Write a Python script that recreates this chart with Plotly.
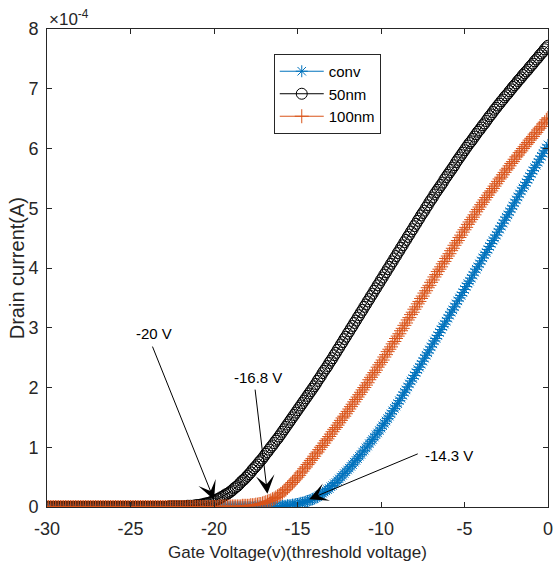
import numpy as np
import plotly.graph_objects as go

# Gate-voltage sweep (V), 0.1 V steps from -30 V to 0 V
gate_voltage = np.round(np.linspace(-30, 0, 301), 1)

# Drain current in units of 1e-4 A.
# Each row holds the ten samples V.0 ... V+0.9 starting at the volt in the comment.
id_conv = [
    0.00, 0.00, 0.00, 0.00, 0.00, 0.00, 0.00, 0.00, 0.00, 0.00,   # -30
    0.00, 0.00, 0.00, 0.00, 0.00, 0.00, 0.00, 0.00, 0.00, 0.00,   # -29
    0.00, 0.00, 0.00, 0.00, 0.00, 0.00, 0.00, 0.00, 0.00, 0.00,   # -28
    0.00, 0.00, 0.00, 0.00, 0.00, 0.00, 0.00, 0.00, 0.00, 0.00,   # -27
    0.00, 0.00, 0.00, 0.00, 0.00, 0.00, 0.00, 0.00, 0.00, 0.00,   # -26
    0.00, 0.00, 0.00, 0.00, 0.00, 0.00, 0.00, 0.00, 0.00, 0.00,   # -25
    0.00, 0.00, 0.00, 0.00, 0.00, 0.00, 0.00, 0.00, 0.00, 0.00,   # -24
    0.00, 0.00, 0.00, 0.00, 0.00, 0.00, 0.00, 0.00, 0.00, 0.00,   # -23
    0.00, 0.00, 0.00, 0.00, 0.00, 0.00, 0.00, 0.00, 0.00, 0.00,   # -22
    0.00, 0.00, 0.00, 0.00, 0.00, 0.00, 0.00, 0.00, 0.00, 0.00,   # -21
    0.00, 0.00, 0.00, 0.00, 0.00, 0.00, 0.00, 0.00, 0.00, 0.00,   # -20
    0.00, 0.00, 0.00, 0.00, 0.00, 0.00, 0.00, 0.00, 0.00, 0.00,   # -19
    0.00, 0.00, 0.00, 0.00, 0.00, 0.01, 0.01, 0.01, 0.01, 0.01,   # -18
    0.01, 0.01, 0.01, 0.01, 0.01, 0.01, 0.01, 0.01, 0.01, 0.01,   # -17
    0.02, 0.02, 0.02, 0.02, 0.03, 0.03, 0.03, 0.04, 0.04, 0.05,   # -16
    0.05, 0.06, 0.07, 0.07, 0.08, 0.09, 0.10, 0.11, 0.12, 0.13,   # -15
    0.14, 0.16, 0.17, 0.19, 0.21, 0.23, 0.25, 0.27, 0.29, 0.31,   # -14
    0.34, 0.36, 0.39, 0.41, 0.44, 0.47, 0.50, 0.53, 0.56, 0.59,   # -13
    0.62, 0.65, 0.68, 0.71, 0.75, 0.78, 0.81, 0.85, 0.88, 0.92,   # -12
    0.95, 0.99, 1.02, 1.06, 1.10, 1.13, 1.17, 1.21, 1.24, 1.28,   # -11
    1.32, 1.36, 1.40, 1.44, 1.48, 1.52, 1.56, 1.61, 1.65, 1.69,   # -10
    1.73, 1.78, 1.82, 1.87, 1.92, 1.96, 2.01, 2.06, 2.11, 2.15,   # -9
    2.20, 2.25, 2.30, 2.34, 2.39, 2.44, 2.49, 2.54, 2.58, 2.63,   # -8
    2.68, 2.73, 2.78, 2.82, 2.87, 2.92, 2.97, 3.02, 3.06, 3.11,   # -7
    3.16, 3.21, 3.26, 3.30, 3.35, 3.40, 3.45, 3.50, 3.54, 3.59,   # -6
    3.64, 3.69, 3.74, 3.78, 3.83, 3.88, 3.93, 3.98, 4.02, 4.07,   # -5
    4.12, 4.17, 4.22, 4.26, 4.31, 4.36, 4.41, 4.46, 4.50, 4.55,   # -4
    4.60, 4.65, 4.70, 4.75, 4.80, 4.85, 4.89, 4.94, 4.99, 5.04,   # -3
    5.09, 5.14, 5.19, 5.24, 5.29, 5.34, 5.38, 5.43, 5.48, 5.53,   # -2
    5.58, 5.63, 5.68, 5.72, 5.77, 5.82, 5.87, 5.92, 5.96, 6.01,   # -1
    6.06,                                                         # 0
]

id_50nm = [
    0.00, 0.00, 0.00, 0.00, 0.00, 0.00, 0.00, 0.00, 0.00, 0.00,   # -30
    0.00, 0.00, 0.00, 0.00, 0.00, 0.00, 0.00, 0.00, 0.00, 0.00,   # -29
    0.00, 0.00, 0.00, 0.00, 0.00, 0.00, 0.00, 0.00, 0.00, 0.00,   # -28
    0.00, 0.00, 0.00, 0.00, 0.00, 0.00, 0.00, 0.00, 0.00, 0.00,   # -27
    0.00, 0.00, 0.00, 0.00, 0.00, 0.00, 0.00, 0.00, 0.00, 0.00,   # -26
    0.00, 0.00, 0.00, 0.00, 0.00, 0.00, 0.00, 0.00, 0.00, 0.00,   # -25
    0.00, 0.00, 0.00, 0.00, 0.00, 0.00, 0.00, 0.00, 0.00, 0.00,   # -24
    0.00, 0.00, 0.00, 0.01, 0.01, 0.01, 0.01, 0.01, 0.01, 0.01,   # -23
    0.01, 0.01, 0.01, 0.01, 0.02, 0.02, 0.02, 0.02, 0.02, 0.03,   # -22
    0.03, 0.03, 0.04, 0.04, 0.05, 0.06, 0.06, 0.07, 0.08, 0.09,   # -21
    0.10, 0.11, 0.13, 0.14, 0.16, 0.17, 0.19, 0.21, 0.22, 0.24,   # -20
    0.26, 0.28, 0.31, 0.33, 0.35, 0.38, 0.41, 0.44, 0.46, 0.49,   # -19
    0.52, 0.55, 0.58, 0.62, 0.65, 0.68, 0.71, 0.75, 0.78, 0.81,   # -18
    0.85, 0.89, 0.92, 0.96, 1.00, 1.03, 1.07, 1.11, 1.14, 1.18,   # -17
    1.22, 1.26, 1.30, 1.34, 1.38, 1.42, 1.46, 1.50, 1.54, 1.58,   # -16
    1.62, 1.66, 1.70, 1.74, 1.78, 1.82, 1.86, 1.90, 1.94, 1.98,   # -15
    2.02, 2.06, 2.11, 2.15, 2.19, 2.24, 2.28, 2.32, 2.36, 2.41,   # -14
    2.45, 2.49, 2.54, 2.58, 2.63, 2.67, 2.72, 2.76, 2.81, 2.85,   # -13
    2.90, 2.94, 2.99, 3.03, 3.08, 3.12, 3.17, 3.21, 3.26, 3.30,   # -12
    3.35, 3.39, 3.44, 3.48, 3.53, 3.57, 3.62, 3.66, 3.71, 3.75,   # -11
    3.80, 3.84, 3.89, 3.93, 3.98, 4.02, 4.07, 4.11, 4.16, 4.20,   # -10
    4.25, 4.29, 4.34, 4.38, 4.43, 4.47, 4.52, 4.56, 4.61, 4.65,   # -9
    4.70, 4.74, 4.79, 4.83, 4.88, 4.92, 4.96, 5.01, 5.05, 5.10,   # -8
    5.14, 5.18, 5.23, 5.27, 5.31, 5.35, 5.39, 5.43, 5.48, 5.52,   # -7
    5.56, 5.60, 5.64, 5.68, 5.72, 5.77, 5.81, 5.85, 5.89, 5.93,   # -6
    5.97, 6.01, 6.05, 6.09, 6.12, 6.16, 6.20, 6.24, 6.28, 6.31,   # -5
    6.35, 6.39, 6.42, 6.46, 6.50, 6.54, 6.57, 6.61, 6.65, 6.68,   # -4
    6.72, 6.75, 6.79, 6.82, 6.86, 6.89, 6.92, 6.96, 6.99, 7.03,   # -3
    7.06, 7.09, 7.13, 7.16, 7.19, 7.23, 7.26, 7.29, 7.32, 7.36,   # -2
    7.39, 7.42, 7.46, 7.49, 7.52, 7.56, 7.59, 7.62, 7.66, 7.69,   # -1
    7.72,                                                         # 0
]

id_100nm = [
    0.00, 0.00, 0.00, 0.00, 0.00, 0.00, 0.00, 0.00, 0.00, 0.00,   # -30
    0.00, 0.00, 0.00, 0.00, 0.00, 0.00, 0.00, 0.00, 0.00, 0.00,   # -29
    0.00, 0.00, 0.00, 0.00, 0.00, 0.00, 0.00, 0.00, 0.00, 0.00,   # -28
    0.00, 0.00, 0.00, 0.00, 0.00, 0.00, 0.00, 0.00, 0.00, 0.00,   # -27
    0.00, 0.00, 0.00, 0.00, 0.00, 0.00, 0.00, 0.00, 0.00, 0.00,   # -26
    0.00, 0.00, 0.00, 0.00, 0.00, 0.00, 0.00, 0.00, 0.00, 0.00,   # -25
    0.00, 0.00, 0.00, 0.00, 0.00, 0.00, 0.00, 0.00, 0.00, 0.00,   # -24
    0.00, 0.00, 0.00, 0.00, 0.00, 0.00, 0.00, 0.00, 0.00, 0.00,   # -23
    0.00, 0.00, 0.00, 0.00, 0.00, 0.00, 0.00, 0.00, 0.00, 0.00,   # -22
    0.00, 0.00, 0.00, 0.00, 0.00, 0.00, 0.00, 0.00, 0.00, 0.00,   # -21
    0.00, 0.00, 0.00, 0.01, 0.01, 0.01, 0.01, 0.01, 0.01, 0.01,   # -20
    0.01, 0.01, 0.01, 0.01, 0.01, 0.01, 0.01, 0.02, 0.02, 0.02,   # -19
    0.02, 0.02, 0.03, 0.03, 0.03, 0.04, 0.04, 0.05, 0.05, 0.06,   # -18
    0.07, 0.08, 0.09, 0.10, 0.11, 0.13, 0.14, 0.16, 0.18, 0.20,   # -17
    0.22, 0.24, 0.27, 0.29, 0.32, 0.35, 0.38, 0.41, 0.44, 0.47,   # -16
    0.50, 0.53, 0.57, 0.60, 0.64, 0.67, 0.71, 0.74, 0.78, 0.81,   # -15
    0.85, 0.89, 0.92, 0.96, 1.00, 1.03, 1.07, 1.11, 1.14, 1.18,   # -14
    1.22, 1.26, 1.30, 1.33, 1.37, 1.41, 1.45, 1.49, 1.52, 1.56,   # -13
    1.60, 1.64, 1.68, 1.72, 1.76, 1.80, 1.84, 1.88, 1.92, 1.96,   # -12
    2.00, 2.04, 2.08, 2.13, 2.17, 2.21, 2.25, 2.29, 2.34, 2.38,   # -11
    2.42, 2.46, 2.51, 2.55, 2.60, 2.64, 2.68, 2.73, 2.77, 2.82,   # -10
    2.86, 2.90, 2.95, 2.99, 3.04, 3.08, 3.13, 3.17, 3.22, 3.26,   # -9
    3.31, 3.35, 3.40, 3.44, 3.49, 3.53, 3.58, 3.62, 3.67, 3.71,   # -8
    3.76, 3.80, 3.85, 3.89, 3.94, 3.98, 4.02, 4.07, 4.11, 4.16,   # -7
    4.20, 4.24, 4.29, 4.33, 4.38, 4.42, 4.46, 4.51, 4.55, 4.60,   # -6
    4.64, 4.68, 4.73, 4.77, 4.81, 4.85, 4.89, 4.94, 4.98, 5.02,   # -5
    5.06, 5.10, 5.14, 5.18, 5.22, 5.26, 5.29, 5.33, 5.37, 5.41,   # -4
    5.45, 5.49, 5.52, 5.56, 5.60, 5.64, 5.67, 5.71, 5.75, 5.78,   # -3
    5.82, 5.86, 5.89, 5.93, 5.96, 6.00, 6.03, 6.07, 6.10, 6.14,   # -2
    6.17, 6.20, 6.24, 6.27, 6.31, 6.34, 6.37, 6.41, 6.44, 6.48,   # -1
    6.51,                                                         # 0
]

series_names = ["conv", "50nm", "100nm"]

# Threshold voltages called out on the plot (V)
threshold_labels = ["-20 V", "-16.8 V", "-14.3 V"]
threshold_voltages = [-20.0, -16.8, -14.3]

x_ticks = [-30, -25, -20, -15, -10, -5, 0]
y_ticks = [0, 1, 2, 3, 4, 5, 6, 7, 8]

FONT = "Liberation Sans, Arial, sans-serif"
AXIS_COLOR = "#262626"

styles = {
    "conv": dict(color="#0072BD", symbol="asterisk-open", size=10),
    "50nm": dict(color="#000000", symbol="circle-open", size=11),
    "100nm": dict(color="#D95319", symbol="cross-thin-open", size=10),
}

fig = go.Figure()
for name, values in zip(series_names, [id_conv, id_50nm, id_100nm]):
    st = styles[name]
    fig.add_trace(go.Scatter(
        x=gate_voltage, y=values, name=name, mode="lines+markers",
        line=dict(color=st["color"], width=1),
        marker=dict(symbol=st["symbol"], size=st["size"], color=st["color"],
                    line=dict(color=st["color"], width=1)),
    ))

# Label anchors, arrow tails (data coordinates) and arrow-tip heights
label_pos = [(-23.6, 2.91), (-17.37, 2.16), (-5.95, 0.87)]
tail_pos = [(-23.72, 2.71), (-17.55, 1.99), (-7.71, 0.90)]
tip_height = [0.12, 0.22, 0.13]

annotations = []
for lab, vt, (lx, ly), (tx, ty), th in zip(threshold_labels, threshold_voltages,
                                          label_pos, tail_pos, tip_height):
    annotations.append(dict(
        x=vt, y=th, ax=tx, ay=ty, xref="x", yref="y", axref="x", ayref="y",
        text="", showarrow=True, arrowhead=3, arrowsize=3.1, arrowwidth=1,
        arrowcolor="#000000", standoff=0,
    ))
    annotations.append(dict(
        x=lx, y=ly, xref="x", yref="y", text=lab, showarrow=False,
        font=dict(family=FONT, size=15, color="#000000"),
        xanchor="center", yanchor="middle",
    ))

annotations += [
    dict(x=0, y=1, xref="paper", yref="paper", xanchor="left", yanchor="bottom",
         text="×10<sup>-4</sup>", showarrow=False, yshift=-2,
         font=dict(family=FONT, size=17, color=AXIS_COLOR)),
    dict(x=-0.0593, y=0.5, xref="paper", yref="paper", textangle=-90,
         text="Drain current(A)", showarrow=False, xanchor="center", yanchor="middle",
         font=dict(family=FONT, size=20, color=AXIS_COLOR)),
    dict(x=0.5, y=-0.0962, xref="paper", yref="paper",
         text="Gate Voltage(v)(threshold voltage)", showarrow=False,
         xanchor="center", yanchor="middle",
         font=dict(family=FONT, size=17, color=AXIS_COLOR)),
]

axis_common = dict(
    showline=True, mirror="ticks", linecolor=AXIS_COLOR, linewidth=1,
    ticks="inside", ticklen=5, tickcolor=AXIS_COLOR, tickwidth=1,
    showgrid=False, zeroline=False, ticklabeloverflow="allow",
    tickfont=dict(family=FONT, size=18, color=AXIS_COLOR),
)

fig.update_layout(
    width=555, height=567,
    margin=dict(l=47, r=2, t=29, b=60),
    paper_bgcolor="white", plot_bgcolor="white",
    xaxis=dict(range=[-30, 0], tickvals=x_ticks, ticktext=[str(v) for v in x_ticks],
               ticklabelstandoff=5, **axis_common),
    yaxis=dict(range=[0, 8], tickvals=y_ticks, ticktext=[str(v) for v in y_ticks],
               ticklabelstandoff=4, **axis_common),
    legend=dict(x=0.4526, y=0.9477, xanchor="left", yanchor="top",
                bgcolor="white", bordercolor=AXIS_COLOR, borderwidth=1,
                itemwidth=44,
                font=dict(family=FONT, size=15, color="#000000")),
    annotations=annotations,
    showlegend=True,
)

fig.write_html("out.html")
